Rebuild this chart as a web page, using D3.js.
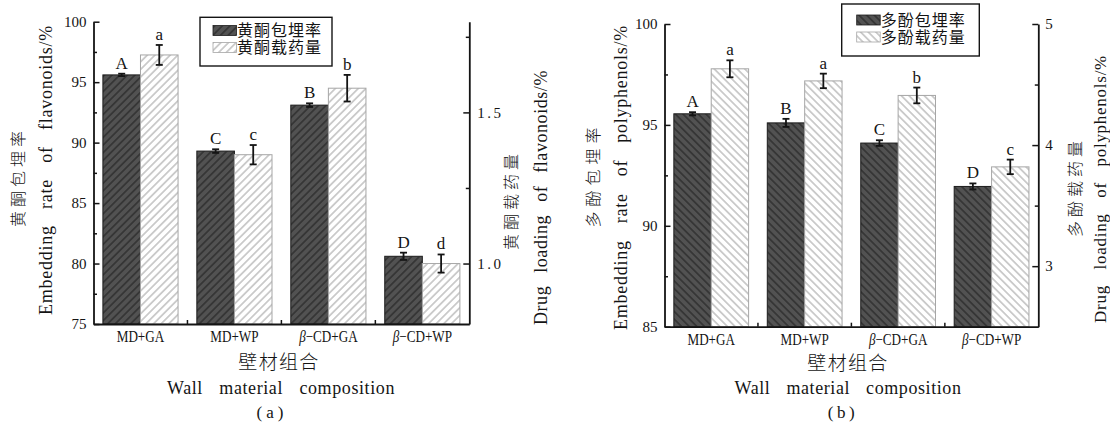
<!DOCTYPE html>
<html>
<head>
<meta charset="utf-8">
<script src="https://cdn.jsdelivr.net/npm/d3@7"></script>
<style>
  html, body { margin: 0; padding: 0; background: #fff; }
  svg { display: block; }
</style>
</head>
<body>
<div id="chart"></div>
<script>
const categories = ['MD+GA', 'MD+WP', 'β-CD+GA', 'β-CD+WP'];

// (a) flavonoids
const flavEmbed = [95.6, 89.3, 93.1, 80.6];
const flavEmbedErr = [0.1, 0.15, 0.15, 0.3];
const flavEmbedSig = ['A', 'C', 'B', 'D'];
const flavLoad = [1.69, 1.36, 1.58, 1.0];
const flavLoadErr = [0.033, 0.032, 0.044, 0.03];
const flavLoadSig = ['a', 'c', 'b', 'd'];
const flavLeftTicks = [75, 80, 85, 90, 95, 100];
const flavLeftMinor = [77.5, 82.5, 87.5, 92.5, 97.5];
const flavRightTicks = [1.0, 1.5];
const flavRightMinor = [1.25, 1.75];

// (b) polyphenols
const polyEmbed = [95.55, 95.1, 94.1, 91.95];
const polyEmbedErr = [0.08, 0.2, 0.14, 0.15];
const polyEmbedSig = ['A', 'B', 'C', 'D'];
const polyLoad = [4.63, 4.53, 4.41, 3.82];
const polyLoadErr = [0.07, 0.06, 0.065, 0.06];
const polyLoadSig = ['a', 'a', 'b', 'c'];
const polyLeftTicks = [85, 90, 95, 100];
const polyLeftMinor = [87.5, 92.5, 97.5];
const polyRightTicks = [3, 4, 5];
const polyRightMinor = [3.5, 4.5];

const SERIF = '"Liberation Serif", "DejaVu Serif", serif';
const CJK = '"Noto Sans CJK SC", sans-serif';
const INK = '#141414';

const svg = d3.select('#chart').append('svg').attr('width', 1110).attr('height', 423);
const defs = svg.append('defs');

function hatch(id, angle, bg, line, gap, lw) {
    const p = defs.append('pattern').attr('id', id)
        .attr('patternUnits', 'userSpaceOnUse')
        .attr('width', gap).attr('height', gap)
        .attr('patternTransform', `rotate(${angle})`);
    p.append('rect').attr('width', gap).attr('height', gap).attr('fill', bg);
    p.append('line').attr('x1', gap / 2).attr('x2', gap / 2).attr('y1', 0).attr('y2', gap)
        .attr('stroke', line).attr('stroke-width', lw);
}
hatch('a-dark', 45, '#525252', '#2e2e2e', 5.4, 1.4);
hatch('a-light', 45, '#ffffff', '#a0a0a0', 5.4, 1);
hatch('b-dark', -45, '#525252', '#2e2e2e', 5.4, 1.4);
hatch('b-light', -45, '#ffffff', '#a0a0a0', 5.4, 1);

// spread a label to the length it has in the original: a little letter spacing, the rest between words
function fit(sel, target) {
    const str = sel.text();
    const len = sel.node().getComputedTextLength();
    const spaces = (str.match(/ /g) || []).length;
    const extra = target - len;
    if (!spaces) {
        sel.style('letter-spacing', `${extra / Math.max(1, str.length - 1)}px`);
        return;
    }
    const ls = Math.max(0, Math.min(1.2, (extra * 0.4) / str.length));
    sel.style('letter-spacing', `${ls}px`);
    const len2 = sel.node().getComputedTextLength();
    sel.style('word-spacing', `${(target - len2) / spaces}px`);
}

function title(g, x, y, text, { font = SERIF, size = 17, len = null, rotate = false, weight = 400 } = {}) {
    const t = g.append('text')
        .attr('transform', `translate(${x},${y})${rotate ? ' rotate(-90)' : ''}`)
        .attr('text-anchor', 'middle').attr('dy', '0.35em')
        .attr('fill', INK)
        .style('font-family', font).style('font-size', `${size}px`).style('font-weight', weight)
        .text(text);
    if (len) fit(t, len);
    return t;
}

function styleAxis(sel) {
    sel.select('.domain').attr('stroke', INK).attr('stroke-width', 1.8);
    sel.selectAll('.tick line').attr('stroke', INK).attr('stroke-width', 1.5);
    sel.selectAll('.tick text').attr('fill', INK)
        .style('font-family', SERIF).style('font-size', '15px');
}

function drawPanel(p) {
    const g = svg.append('g');
    const x0 = d3.scaleBand().domain(categories).range([p.x0, p.x1])
        .paddingInner(0.2).paddingOuter(0.1);
    const x1 = d3.scaleBand().domain([0, 1]).range([0, x0.bandwidth()]);
    const yL = d3.scaleLinear().domain(p.leftDomain).range([p.y1, p.y0]);
    const yR = d3.scaleLinear().domain(p.rightDomain).range([p.y1, p.y0]);

    const series = [
        { vals: p.embed, err: p.embedErr, sig: p.embedSig, y: yL, fill: `url(#${p.id}-dark)`, stroke: '#1c1c1c' },
        { vals: p.load, err: p.loadErr, sig: p.loadSig, y: yR, fill: `url(#${p.id}-light)`, stroke: '#a6a6a6' },
    ];

    series.forEach((s, si) => {
        const rows = categories.map((c, i) => ({ c, v: s.vals[i], e: s.err[i], sig: s.sig[i] }));
        const cx = (d) => x0(d.c) + x1(si) + x1.bandwidth() / 2;

        g.append('g').selectAll('rect').data(rows).join('rect')
            .attr('x', (d) => x0(d.c) + x1(si))
            .attr('y', (d) => s.y(d.v))
            .attr('width', x1.bandwidth())
            .attr('height', (d) => s.y.range()[0] - s.y(d.v))
            .attr('fill', s.fill)
            .attr('stroke', s.stroke).attr('stroke-width', 1);

        const eb = g.append('g').attr('stroke', INK).attr('stroke-width', 1.8);
        eb.selectAll('line.v').data(rows).join('line').attr('class', 'v')
            .attr('x1', cx).attr('x2', cx)
            .attr('y1', (d) => s.y(d.v - d.e)).attr('y2', (d) => s.y(d.v + d.e));
        [-1, 1].forEach((k) => {
            eb.selectAll(null).data(rows).join('line')
                .attr('x1', (d) => cx(d) - 3.5).attr('x2', (d) => cx(d) + 3.5)
                .attr('y1', (d) => s.y(d.v + k * d.e)).attr('y2', (d) => s.y(d.v + k * d.e));
        });

        g.append('g').selectAll('text').data(rows).join('text')
            .attr('x', cx).attr('y', (d) => s.y(d.v + d.e) - 5)
            .attr('text-anchor', 'middle').attr('fill', INK)
            .style('font-family', SERIF).style('font-size', '17px')
            .text((d) => d.sig);
    });

    // Left axis
    g.append('g').attr('transform', `translate(${p.x0},0)`)
        .call(d3.axisLeft(yL).tickValues(p.leftTicks).tickSizeInner(-6).tickSizeOuter(0)
            .tickPadding(7).tickFormat(d3.format('d')))
        .call(styleAxis);
    g.append('g').attr('transform', `translate(${p.x0},0)`)
        .call(d3.axisLeft(yL).tickValues(p.leftMinor).tickSize(-3.5).tickFormat(''))
        .call(styleAxis).call((a) => a.select('.domain').remove());

    // Right axis
    g.append('g').attr('transform', `translate(${p.x1},0)`)
        .call(d3.axisRight(yR).tickValues(p.rightTicks).tickSizeInner(-6).tickSizeOuter(0)
            .tickPadding(p.rightPad).tickFormat(p.rightFmt))
        .call(styleAxis)
        .call((a) => a.selectAll('.tick text').style('letter-spacing', p.rightSpacing));
    g.append('g').attr('transform', `translate(${p.x1},0)`)
        .call(d3.axisRight(yR).tickValues(p.rightMinor).tickSize(-3.5).tickFormat(''))
        .call(styleAxis).call((a) => a.select('.domain').remove());

    // Bottom axis, β set in italics
    const xa = g.append('g').attr('transform', `translate(0,${p.y1})`)
        .call(d3.axisBottom(x0).tickSize(0).tickSizeOuter(0).tickPadding(7))
        .call(styleAxis);
    xa.selectAll('.tick text').each(function (d) {
        const t = d3.select(this).text('').style('font-size', '16px')
            .attr('transform', 'scale(0.82,1)');
        if (d.startsWith('β')) {
            t.append('tspan').style('font-style', 'italic').text('β');
            t.append('tspan').text(d.slice(1).replace('-', '−'));
        } else {
            t.append('tspan').text(d);
        }
    });
    const gap = x0.step() * x0.paddingInner() / 2;
    g.append('g').selectAll('line').data(categories.slice(1)).join('line')
        .attr('x1', (c) => x0(c) - gap).attr('x2', (c) => x0(c) - gap)
        .attr('y1', p.y1).attr('y2', p.y1 - 4)
        .attr('stroke', INK).attr('stroke-width', 1.5);

    // Legend
    const lg = g.append('g');
    lg.append('rect').attr('x', p.legend.x).attr('y', p.legend.y)
        .attr('width', p.legend.w).attr('height', p.legend.h)
        .attr('fill', '#fff').attr('stroke', INK).attr('stroke-width', 1.4);
    p.legend.labels.forEach((lab, i) => {
        const cy = p.legend.rows[i];
        lg.append('rect').attr('x', p.legend.sx).attr('y', cy - 5)
            .attr('width', 23.5).attr('height', 10)
            .attr('fill', series[i].fill).attr('stroke', series[i].stroke).attr('stroke-width', 0.8);
        lg.append('text').attr('x', p.legend.sx + 24).attr('y', cy).attr('dy', '0.36em')
            .attr('fill', INK).style('font-family', CJK).style('font-size', '16px')
            .style('letter-spacing', '1px')
            .text(lab);
    });

    // Titles
    p.titles.forEach((t) => title(g, t.x, t.y, t.text, t));
}

drawPanel({
    id: 'a', x0: 93.5, x1: 469.3, y0: 21.7, y1: 324,
    leftDomain: [75, 100], leftTicks: flavLeftTicks, leftMinor: flavLeftMinor,
    rightDomain: [0.8, 1.8], rightTicks: flavRightTicks, rightMinor: flavRightMinor,
    rightFmt: d3.format('.1f'), rightPad: 8, rightSpacing: '2.5px',
    embed: flavEmbed, embedErr: flavEmbedErr, embedSig: flavEmbedSig,
    load: flavLoad, loadErr: flavLoadErr, loadSig: flavLoadSig,
    legend: { x: 200, y: 17.3, w: 132, h: 48.7, sx: 213, rows: [30.5, 47.5], labels: ['黄酮包埋率', '黄酮载药量'] },
    titles: [
        { x: 18, y: 177, text: '黄酮包埋率', font: CJK, size: 16, len: 96, rotate: true, weight: 300 },
        { x: 46, y: 170, text: 'Embedding rate of flavonoids/%', size: 18, len: 290, rotate: true },
        { x: 511.7, y: 200, text: '黄酮载药量', font: CJK, size: 16, len: 96, rotate: true, weight: 300 },
        { x: 541, y: 197.5, text: 'Drug loading of flavonoids/%', size: 18, len: 255, rotate: true },
        { x: 279, y: 362.5, text: '壁材组合', font: CJK, size: 19, len: 80, weight: 300 },
        { x: 281, y: 388, text: 'Wall material composition', size: 18, len: 228 },
        { x: 272, y: 412, text: '(a)', size: 17, len: 27 },
    ],
});

drawPanel({
    id: 'b', x0: 664.5, x1: 1038.3, y0: 24, y1: 326.7,
    leftDomain: [85, 100], leftTicks: polyLeftTicks, leftMinor: polyLeftMinor,
    rightDomain: [2.5, 5], rightTicks: polyRightTicks, rightMinor: polyRightMinor,
    rightFmt: d3.format('d'), rightPad: 7, rightSpacing: '0px',
    embed: polyEmbed, embedErr: polyEmbedErr, embedSig: polyEmbedSig,
    load: polyLoad, loadErr: polyLoadErr, loadSig: polyLoadSig,
    legend: { x: 841.7, y: 4, w: 137.6, h: 52, sx: 856.7, rows: [20, 37], labels: ['多酚包埋率', '多酚载药量'] },
    titles: [
        { x: 593.3, y: 175, text: '多酚包埋率', font: CJK, size: 16, len: 100, rotate: true, weight: 300 },
        { x: 621, y: 177.5, text: 'Embedding rate of polyphenols/%', size: 18, len: 305, rotate: true },
        { x: 1075, y: 187, text: '多酚载药量', font: CJK, size: 16, len: 96, rotate: true, weight: 300 },
        { x: 1100, y: 189, text: 'Drug loading of polyphenols/%', size: 17, len: 268, rotate: true },
        { x: 848, y: 363, text: '壁材组合', font: CJK, size: 19, len: 80, weight: 300 },
        { x: 848, y: 388, text: 'Wall material composition', size: 18, len: 227 },
        { x: 843, y: 412, text: '(b)', size: 17, len: 27 },
    ],
});
</script>
</body>
</html>
